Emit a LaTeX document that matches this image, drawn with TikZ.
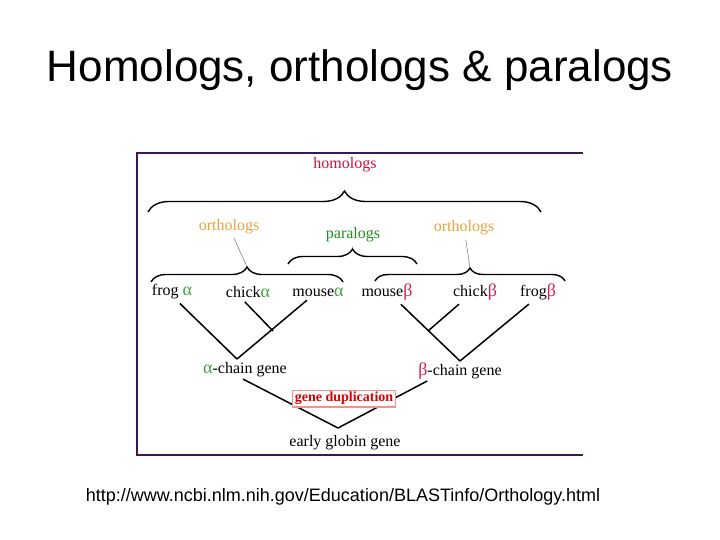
\documentclass[tikz,border=0pt]{standalone}
\usepackage{fontspec}
\setmainfont{Liberation Serif}
\newfontfamily\arialfont{Liberation Sans}
\usetikzlibrary{decorations.pathreplacing}
\definecolor{homred}{HTML}{D0103A}
\definecolor{orthorange}{HTML}{E8A23A}
\definecolor{paragreen}{HTML}{1E8C1E}
\definecolor{alphagreen}{HTML}{3FA33F}
\definecolor{betared}{HTML}{D4204E}
\definecolor{framepurple}{HTML}{3A1A4E}
\newcommand{\calpha}{\textcolor{alphagreen}{\fontsize{18}{18}\selectfont α}}
\newcommand{\cbeta}{\textcolor{betared}{\fontsize{18}{18}\selectfont β}}

\begin{document}
\begin{tikzpicture}[x=1pt,y=-1pt,semithick,font=\fontsize{16}{18}\selectfont]
  \tikzstyle{every node}=[inner sep=1pt]
  \tikzstyle{brc}=[decorate,decoration={brace,amplitude=15pt},line width=1.4pt]
  \tikzstyle{tree}=[line width=1.5pt,shorten <=4pt]
  \tikzstyle{pointer}=[thin,gray!70!black,shorten <=3pt]
  \useasboundingbox (0,0) rectangle (720,540);

  \node[font=\arialfont\fontsize{44}{50}\selectfont] (T) at (360,70) {Homologs, orthologs \& paralogs};
  \node[font=\arialfont\fontsize{18}{20}\selectfont] (U) at (343,497) {http://www.ncbi.nlm.nih.gov/Education/BLASTinfo/Orthology.html};

  \draw[framepurple,line width=1.5pt] (583,153) -- (137,153) -- (137,455) -- (583,455);

  \node[text=homred]     (HOM) at (345,165) {homologs};
  \node[text=orthorange] (ORL) at (229,227) {orthologs};
  \node[text=paragreen]  (PAR) at (353,235) {paralogs};
  \node[text=orthorange] (ORR) at (464,228) {orthologs};

  \draw[brc,decoration={amplitude=21pt}] (148,212) -- (541,212);
  \draw[brc] (288,264) -- (417,264);
  \draw[brc] (151,282) -- (343,282);
  \draw[brc,decoration={amplitude=13pt}] (375,281) -- (565,281);

  \coordinate (LT) at (247,267);
  \coordinate (PT) at (352.5,249);
  \coordinate (RT) at (470,268);
  \draw[pointer] (ORL) -- (LT);
  \draw[pointer] (PAR) -- (PT);
  \draw[pointer] (ORR) -- (RT);

  \node (FA) at (172,292) {frog \calpha};
  \node (CA) at (248,292) {chick\calpha};
  \node (MA) at (318,292) {mouse\calpha};
  \node (MB) at (387,292) {mouse\cbeta};
  \node (CB) at (475,292) {chick\cbeta};
  \node (FB) at (538,292) {frog\cbeta};

  \coordinate (AR) at (237,359);
  \coordinate (AJ) at (273,331);
  \coordinate (BR) at (460,361);
  \coordinate (BJ) at (428,331);
  \coordinate (ER) at (338,428);

  \draw[tree] ([xshift=5pt]FA.south) -- (AR);
  \draw[tree] ([xshift=-8pt]MA.south) -- (AR);
  \draw[tree] ([xshift=-6pt]CA.south) -- (AJ);
  \draw[tree] ([xshift=11pt]MB.south) -- (BR);
  \draw[tree] ([xshift=-6pt]FB.south) -- (BR);
  \draw[tree] ([xshift=-13pt]CB.south) -- (BJ);

  \node (AC) at (245,370) {\calpha-chain gene};
  \node (BC) at (460,371) {\cbeta-chain gene};
  \node (EG) at (345,443) {early globin gene};

  \draw[tree,shorten <=1pt] ([xshift=-3pt]AC.south) -- (ER);
  \draw[tree,shorten <=1pt] ([xshift=11pt]BC.south west) -- (ER);

  \node[draw=red!45,line width=1.2pt,fill=white,text=red!85!black,inner sep=2pt,
        font=\fontsize{14}{16}\selectfont\bfseries] (GD) at (344,398.5) {gene duplication};
\end{tikzpicture}
\end{document}
